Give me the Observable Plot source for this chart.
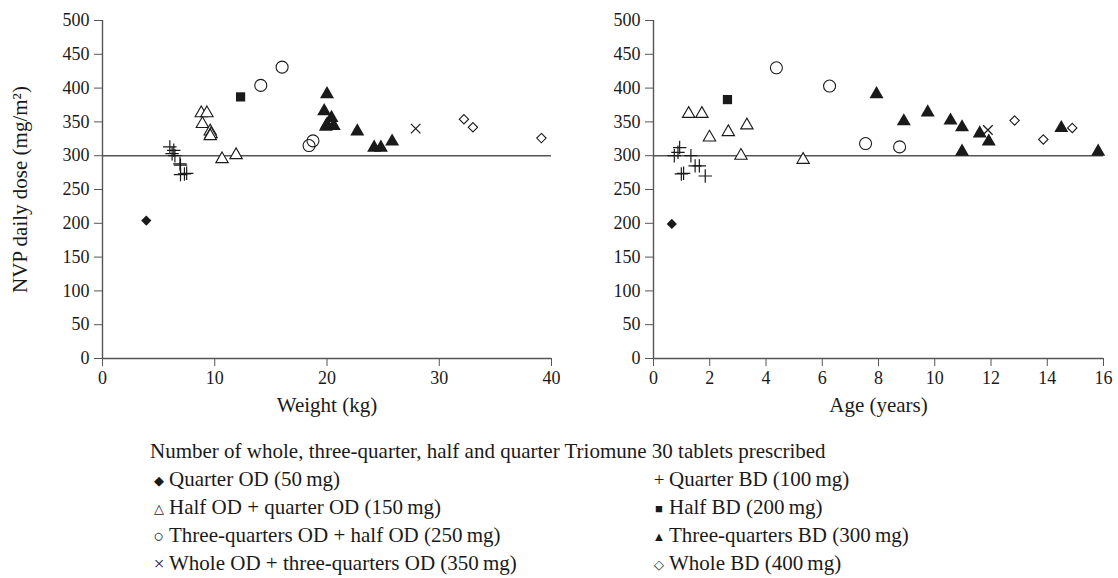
<!DOCTYPE html>
<html>
<head>
<meta charset="utf-8">
<script src="https://cdn.jsdelivr.net/npm/d3@7"></script>
<script src="https://cdn.jsdelivr.net/npm/@observablehq/plot@0.6"></script>
<style>
  html, body { margin: 0; padding: 0; background: #fff; }
  body { width: 1118px; height: 578px; position: relative; overflow: hidden; font-family: "Liberation Serif", "DejaVu Serif", serif; color: #1a1a1a; }
  #charts { position: absolute; left: 0; top: 0; display: flex; }
  #legend { position: absolute; left: 150px; top: 437px; font-size: 21px; }
  #legend .title { height: 28px; line-height: 28px; }
  #legend .grid { display: grid; grid-template-columns: 500px 400px; margin-left: 2px; }
  #legend .item { height: 28px; line-height: 28px; white-space: nowrap; }
  #legend .sym { display: inline-block; width: 14px; text-align: center; font-size: 13px; margin-right: 3px; vertical-align: 1px; }
  #legend .sym.big { font-size: 19px; vertical-align: 0; }
  #legend .sym.ring { font-size: 18px; vertical-align: 0; }
</style>
</head>
<body>
<div id="charts"></div>
<div id="legend"></div>
<script>
// ---------- Data ----------
const yTicks = [0, 50, 100, 150, 200, 250, 300, 350, 400, 450, 500];
const weightTicks = [0, 10, 20, 30, 40];
const ageTicks = [0, 2, 4, 6, 8, 10, 12, 14, 16];
const referenceDose = 300;

const seriesNames = [
  "Quarter OD (50\u2009mg)",
  "Quarter BD (100\u2009mg)",
  "Half OD + quarter OD (150\u2009mg)",
  "Half BD (200\u2009mg)",
  "Three-quarters OD + half OD (250\u2009mg)",
  "Three-quarters BD (300\u2009mg)",
  "Whole OD + three-quarters OD (350\u2009mg)",
  "Whole BD (400\u2009mg)"
];
const legendSymbols = ["\u25C6", "+", "\u25B3", "\u25A0", "\u25CB", "\u25B2", "\u00D7", "\u25C7"];

// Weight panel (kg, mg/m2)
const quarterOD_weight = [3.9];
const quarterOD_doseW = [204];
const quarterBD_weight = [6.0, 6.35, 6.2, 6.45, 6.9, 6.95, 6.95, 7.3, 7.5];
const quarterBD_doseW = [313, 308, 303, 300, 288, 286, 272, 273, 274];
const halfQuarterOD_weight = [8.8, 9.3, 8.9, 9.6, 9.67, 9.6, 10.65, 11.9];
const halfQuarterOD_doseW = [363, 363, 347, 336, 332, 329, 295, 301];
const halfBD_weight = [12.3];
const halfBD_doseW = [387];
const threeQHalfOD_weight = [16.0, 14.1, 18.75, 18.4];
const threeQHalfOD_doseW = [431, 404, 322, 315];
const threeQBD_weight = [20.0, 19.75, 20.4, 20.0, 20.6, 19.9, 22.7, 24.2, 24.8, 25.8];
const threeQBD_doseW = [391, 366, 356, 346, 344, 343, 336, 312, 312, 321];
const wholeThreeQOD_weight = [27.9];
const wholeThreeQOD_doseW = [340];
const wholeBD_weight = [32.2, 33.0, 39.1];
const wholeBD_doseW = [354, 342, 326];

// Age panel (years, mg/m2)
const quarterOD_age = [0.65];
const quarterOD_doseA = [199];
const quarterBD_age = [0.74, 0.93, 0.87, 0.99, 1.07, 1.33, 1.48, 1.63, 1.84];
const quarterBD_doseA = [300, 312, 305, 273, 274, 300, 285, 285, 270];
const halfQuarterOD_age = [1.25, 1.72, 1.99, 2.66, 3.32, 3.11, 5.32];
const halfQuarterOD_doseA = [362, 362, 327, 335, 345, 300, 294];
const halfBD_age = [2.63];
const halfBD_doseA = [383];
const threeQHalfOD_age = [4.37, 6.26, 7.54, 8.75];
const threeQHalfOD_doseA = [430, 403, 318, 313];
const threeQBD_age = [7.93, 8.9, 9.75, 10.56, 10.97, 10.97, 11.6, 11.92, 14.5, 15.81];
const threeQBD_doseA = [391, 351, 364, 352, 342, 306, 333, 321, 341, 306];
const wholeThreeQOD_age = [11.89];
const wholeThreeQOD_doseA = [338];
const wholeBD_age = [12.84, 13.86, 14.89];
const wholeBD_doseA = [352, 324, 341];

// ---------- Build tables ----------
function rows(xs, ys) { return xs.map((x, i) => ({x, y: ys[i]})); }
const weightSeries = [
  rows(quarterOD_weight, quarterOD_doseW),
  rows(quarterBD_weight, quarterBD_doseW),
  rows(halfQuarterOD_weight, halfQuarterOD_doseW),
  rows(halfBD_weight, halfBD_doseW),
  rows(threeQHalfOD_weight, threeQHalfOD_doseW),
  rows(threeQBD_weight, threeQBD_doseW),
  rows(wholeThreeQOD_weight, wholeThreeQOD_doseW),
  rows(wholeBD_weight, wholeBD_doseW)
];
const ageSeries = [
  rows(quarterOD_age, quarterOD_doseA),
  rows(quarterBD_age, quarterBD_doseA),
  rows(halfQuarterOD_age, halfQuarterOD_doseA),
  rows(halfBD_age, halfBD_doseA),
  rows(threeQHalfOD_age, threeQHalfOD_doseA),
  rows(threeQBD_age, threeQBD_doseA),
  rows(wholeThreeQOD_age, wholeThreeQOD_doseA),
  rows(wholeBD_age, wholeBD_doseA)
];

const ink = "#1a1a1a";
const axisInk = "#555";
const styles = [
  {symbol: "diamond2", fill: ink, stroke: "none", r: 4.6},
  {symbol: "plus", fill: "none", stroke: ink, r: 4.4, strokeWidth: 1.2},
  {symbol: "triangle", fill: "white", stroke: ink, r: 4.6, strokeWidth: 1.1},
  {symbol: "square", fill: ink, stroke: "none", r: 5.2},
  {symbol: "circle", fill: "none", stroke: ink, r: 6, strokeWidth: 1.1},
  {symbol: "triangle", fill: ink, stroke: "none", r: 5.2},
  {symbol: "times", fill: "none", stroke: ink, r: 4.4, strokeWidth: 1.2},
  {symbol: "diamond2", fill: "white", stroke: ink, r: 4.2, strokeWidth: 1.1}
];

function panel({series, xDomain, xTicks, xLabel, width, marginLeft, marginRight, showYLabel}) {
  const marks = [
    Plot.ruleY([referenceDose], {stroke: axisInk, strokeWidth: 1.4}),
    Plot.axisY({ticks: yTicks, tickSize: 8, tickPadding: 5, label: null, fontSize: 18, stroke: axisInk, color: ink}),
    Plot.axisX({ticks: xTicks, tickSize: 8, tickPadding: 5, label: null, fontSize: 18, stroke: axisInk, color: ink}),
    Plot.ruleX([0], {stroke: axisInk, strokeWidth: 1.4}),
    Plot.ruleY([0], {stroke: axisInk, strokeWidth: 1.4}),
    Plot.text([xLabel], {frameAnchor: "bottom", dy: 53, fontSize: 21, fill: ink})
  ];
  if (showYLabel) {
    marks.push(Plot.text(["NVP daily dose (mg/m\u00B2)"], {frameAnchor: "left", textAnchor: "middle", rotate: -90, dx: -82, fontSize: 21, fill: ink}));
  }
  series.forEach((data, i) => {
    const s = styles[i];
    marks.push(Plot.dot(data, {x: "x", y: "y", symbol: () => s.symbol, r: s.r, fill: s.fill, stroke: s.stroke, strokeWidth: s.strokeWidth || 1}));
  });
  return Plot.plot({
    width, height: 430,
    marginTop: 20, marginBottom: 72, marginLeft, marginRight,
    style: {fontFamily: "'Liberation Serif', serif", fontSize: "18px", background: "white", overflow: "visible"},
    x: {domain: xDomain},
    y: {domain: [0, 500]},
    symbol: {type: "identity"},
    marks
  });
}

const charts = document.getElementById("charts");
charts.appendChild(panel({series: weightSeries, xDomain: [0, 40], xTicks: weightTicks, xLabel: "Weight (kg)", width: 560, marginLeft: 102, marginRight: 9, showYLabel: true}));
charts.appendChild(panel({series: ageSeries, xDomain: [0, 16], xTicks: ageTicks, xLabel: "Age (years)", width: 558, marginLeft: 93, marginRight: 15, showYLabel: false}));

// ---------- Legend ----------
const legend = document.getElementById("legend");
const title = document.createElement("div");
title.className = "title";
title.textContent = "Number of whole, three-quarter, half and quarter Triomune 30 tablets prescribed";
legend.appendChild(title);
const grid = document.createElement("div");
grid.className = "grid";
seriesNames.forEach((name, i) => {
  const item = document.createElement("div");
  item.className = "item";
  const sym = document.createElement("span");
  const ch = legendSymbols[i];
  const extra = (ch === "+" || ch === "\u00D7") ? " big" : (ch === "\u25CB" ? " ring" : "");
  sym.className = "sym" + extra;
  sym.textContent = ch;
  item.appendChild(sym);
  item.appendChild(document.createTextNode(name));
  grid.appendChild(item);
});
legend.appendChild(grid);
</script>
</body>
</html>
